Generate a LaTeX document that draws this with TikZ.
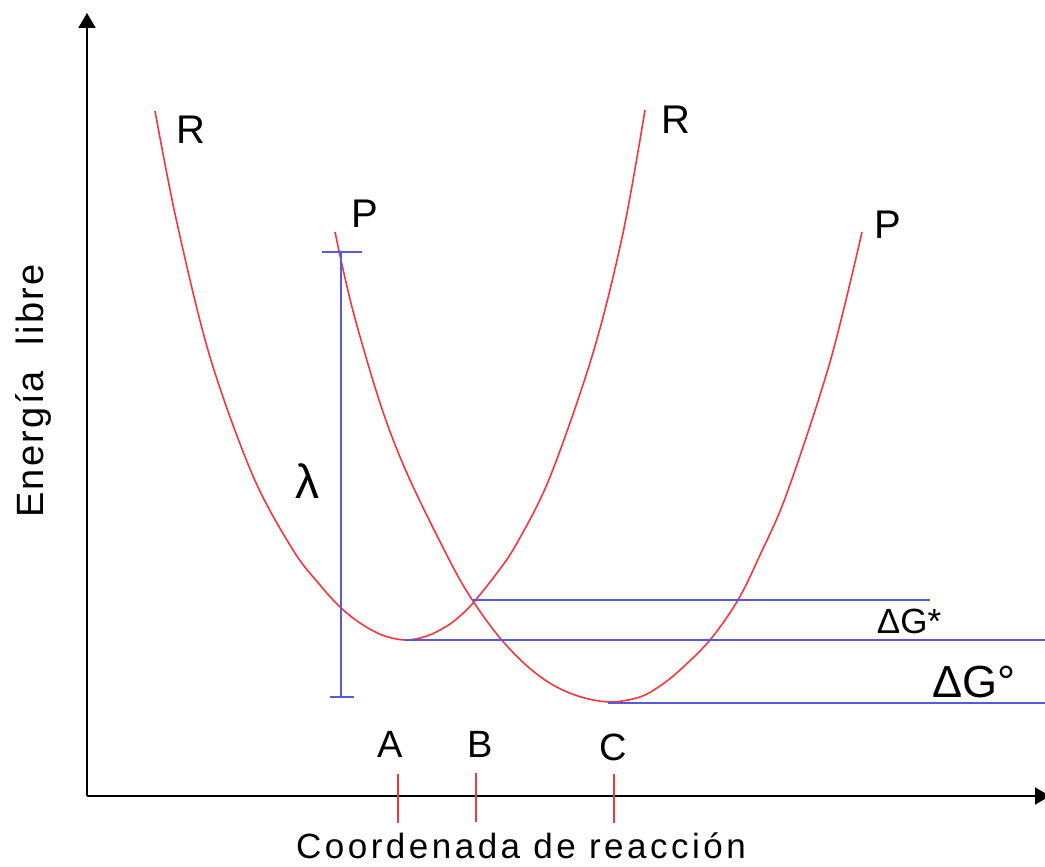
\documentclass[tikz,border=0pt]{standalone}
\usepackage{fontspec}
\setmainfont{Liberation Sans}
\newfontfamily\xlabfont[LetterSpace=10]{Liberation Sans}
\newfontfamily\ylabfont[LetterSpace=6]{Liberation Sans}
\usetikzlibrary{arrows.meta}
\definecolor{curvered}{RGB}{248,52,62}
\definecolor{levelblue}{RGB}{88,88,218}
\begin{document}
\begin{tikzpicture}[x=1pt,y=-1pt,
  axisline/.style={line width=2.2pt, black, -{Triangle[length=15pt,width=17pt]}},
  curvepath/.style={curvered, line width=1.6pt},
  levelline/.style={levelblue, line width=2pt},
  tickmark/.style={curvered, line width=2pt},
  lbl/.style={inner sep=0pt, anchor=base, font=\fontsize{40}{48}\selectfont},
  abc/.style={inner sep=0pt, anchor=base, font=\fontsize{38}{46}\selectfont}
]
\useasboundingbox (0,0) rectangle (1045,867);

% axes
\coordinate (O) at (87,796);
\coordinate (ytip) at (87,13);
\coordinate (xtip) at (1050,796);
\draw[axisline] (O) -- (ytip);
\draw[axisline] (O) -- (xtip);

% R curve
\draw[curvepath] plot[smooth, tension=0.55] coordinates {
  (155,111) (177,223) (210,357) (253,476) (293,550) (320,585) (340,607)
  (360,623) (382,635) (405,640) (427,636) (447,626) (460,616) (473,603)
  (497,573) (517,543) (550,477) (593,353) (623,233) (645,110)};

% P curve
\draw[curvepath] plot[smooth, tension=0.55] coordinates {
  (335,232) (353,311) (382,409) (410,480) (453,567) (475,604) (500,638)
  (527,666) (553,685) (581,697) (611,702) (640,697) (660,686) (680,670)
  (710,640) (738,600) (760,555) (787,493) (830,362) (862,232)};

% lambda bar
\coordinate (lamtop) at (341,252);
\coordinate (lambot) at (341,697);
\draw[levelline] (lamtop) -- (lambot);
\draw[levelline] ([xshift=-19pt]lamtop) -- ([xshift=21pt]lamtop);
\draw[levelline] ([xshift=-11pt]lambot) -- ([xshift=13pt]lambot);

% energy levels
\coordinate (TS) at (472,600);
\coordinate (TSend) at (930,600);
\coordinate (Rmin) at (405,640);
\coordinate (Rend) at (1046,640);
\coordinate (Pmin) at (608,703);
\coordinate (Pend) at (1046,703);
\draw[levelline] (TS) -- (TSend);
\draw[levelline] (Rmin) -- (Rend);
\draw[levelline] (Pmin) -- (Pend);

% ticks on the reaction coordinate
\coordinate (tA) at (398,774);
\coordinate (tB) at (476,773);
\coordinate (tC) at (614,774);
\draw[tickmark] (tA) -- ++(0,49);
\draw[tickmark] (tB) -- ++(0,49);
\draw[tickmark] (tC) -- ++(0,49);

% labels
\node[lbl] (R1) at (191,143) {R};
\node[lbl] (R2) at (676,133) {R};
\node[lbl] (P1) at (365,227) {P};
\node[lbl] (P2) at (888,238) {P};
\node[abc] (A) at (390,757) {A};
\node[abc] (B) at (480,757) {B};
\node[abc] (C) at (613,760) {C};
\node[inner sep=0pt, anchor=base, font=\fontsize{48}{56}\selectfont] (lam) at (307,498) {λ};
\node[inner sep=0pt, anchor=base, font=\fontsize{35}{42}\selectfont] (dGs) at (909,633) {ΔG*};
\node[inner sep=0pt, anchor=base, font=\fontsize{45}{52}\selectfont] (dGo) at (974,697) {ΔG°};
\node[inner sep=0pt, anchor=base, font=\xlabfont\fontsize{35}{42}\selectfont] (xlab) at (521,858) {Coordenada de reacción};
\node[inner sep=0pt, anchor=base, rotate=90, font=\ylabfont\fontsize{38}{46}\selectfont] (ylab) at (43,391) {Energía\ \ libre};
\end{tikzpicture}
\end{document}
